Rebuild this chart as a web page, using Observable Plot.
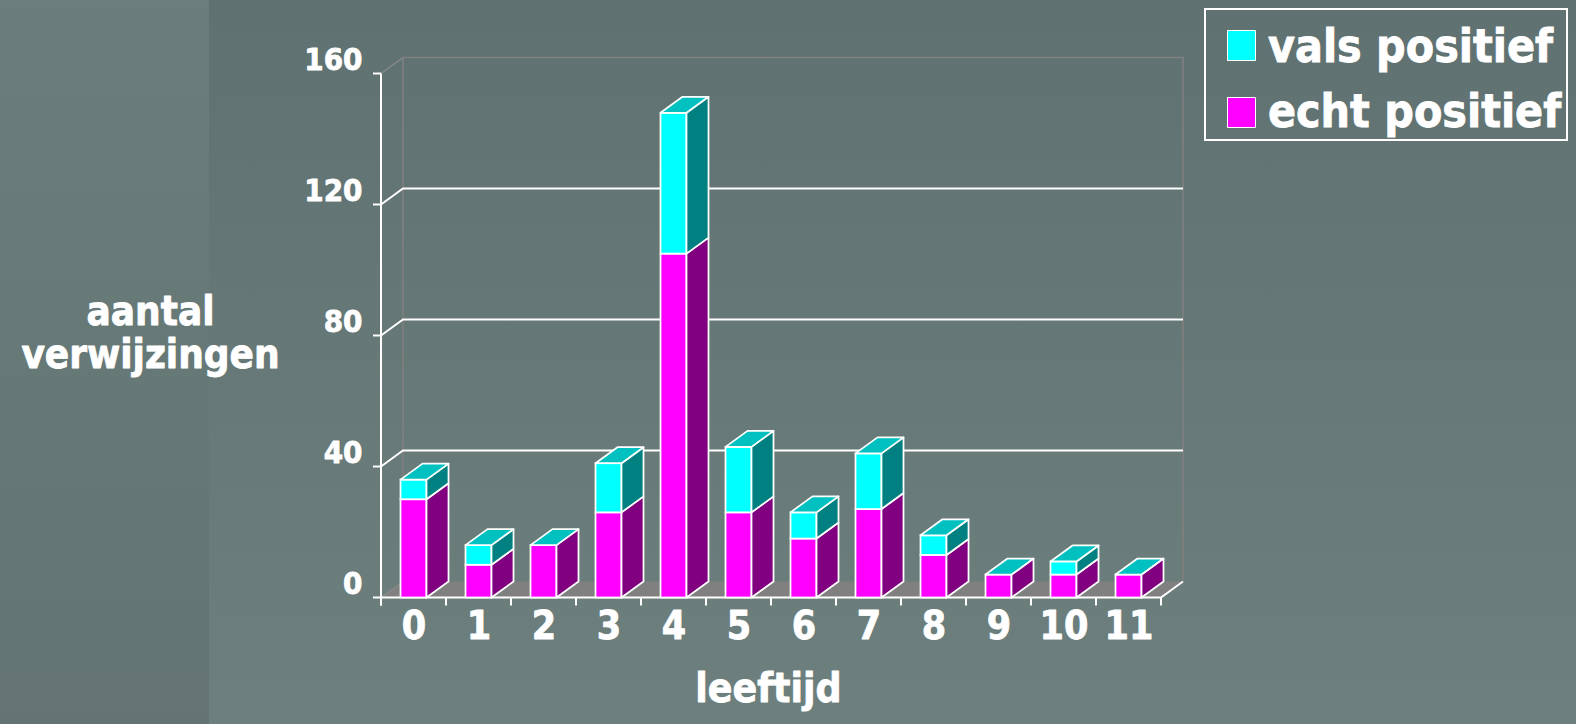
<!DOCTYPE html>
<html>
<head>
<meta charset="utf-8">
<script src="https://cdn.jsdelivr.net/npm/d3@7"></script>
<script src="https://cdn.jsdelivr.net/npm/@observablehq/plot@0.6"></script>
<style>
  html, body { margin: 0; padding: 0; }
  #page {
    position: relative; width: 1576px; height: 724px; overflow: hidden;
    background:
      linear-gradient(to bottom, #6b7e7c, #637472) 0 0 / 209px 100% no-repeat,
      linear-gradient(to bottom, #5f7170, #6d807e);
    font-family: "DejaVu Sans Condensed", "DejaVu Sans", sans-serif;
    font-stretch: condensed;
  }
  #chart { position: absolute; left: 0; top: 0; }
  #legend {
    position: absolute; left: 1204px; top: 8px; width: 364px; height: 133px;
    border: 2px solid #fff; box-sizing: border-box;
    color: #fff; font-weight: bold; font-size: 46px;
    -webkit-text-stroke: 0.8px #fff;
  }
  #legend .sw { position: absolute; left: 21px; width: 27px; height: 29px; border: 1px solid #fff; }
  #legend .lb { position: absolute; left: 62px; line-height: 46px; white-space: nowrap; }
</style>
</head>
<body>
<div id="page">
  <div id="chart"></div>
  <div id="legend"></div>
</div>
<script>
// ---- data ----
const ages = ["0","1","2","3","4","5","6","7","8","9","10","11"];
const echtPositief = [30, 10, 16, 26, 105, 26, 18, 27, 13, 7, 7, 7];
const valsPositief = [6, 6, 0, 15, 43, 20, 8, 17, 6, 0, 4, 0];
const seriesNames = ["echt positief", "vals positief"];
const frontColors = ["#ff00ff", "#00ffff"];
const sideColors = ["#800080", "#008080"];
const topColor = "#00c0c0";
const yTicks = [0, 40, 80, 120, 160];
const gridTicks = [40, 80, 120];
const legendOrder = ["vals positief", "echt positief"];
const yTitle = "aantal\nverwijzingen";
const xTitle = "leeftijd";

const rows = [
  ...ages.map((a, i) => ({age: a, series: seriesNames[0], value: echtPositief[i]})),
  ...ages.map((a, i) => ({age: a, series: seriesNames[1], value: valsPositief[i]}))
];

// 3D look
const DX = 22, DY = -16, INSET = 19.5, SW = 1.75;
const FONT = '"DejaVu Sans Condensed", "DejaVu Sans", sans-serif';
const TXT = {fill: "white", stroke: "white", strokeWidth: 0.8, fontWeight: "bold"};

function pts(arr) { return arr.map(p => p.join(",")).join(" "); }

function wallRender(index, scales, values, dims, ctx) {
  const x = scales.x, y = scales.y;
  const step = x(ages[1]) - x(ages[0]);
  const x0 = x(ages[0]), xN = x(ages[ages.length - 1]) + step;
  const y0 = y(0), yT = y(yTicks[yTicks.length - 1]);
  const g = d3.create("svg:g");
  // floor
  g.append("polygon").attr("points", pts([[x0, y0], [xN, y0], [xN + DX, y0 + DY], [x0 + DX, y0 + DY]]))
    .attr("fill", "#808080");
  // back wall outline
  g.append("polyline").attr("points", pts([[x0 + DX, y0 + DY], [x0 + DX, yT + DY], [xN + DX, yT + DY], [xN + DX, y0 + DY]]))
    .attr("fill", "none").attr("stroke", "#808080").attr("stroke-width", 1.5);
  // grey diagonals at 0 and top
  for (const v of [0, yTicks[yTicks.length - 1]]) {
    g.append("line").attr("x1", x0).attr("y1", y(v)).attr("x2", x0 + DX).attr("y2", y(v) + DY)
      .attr("stroke", "#8a8a8a").attr("stroke-width", 1.5);
  }
  // gridlines + white diagonals
  for (const v of gridTicks) {
    g.append("polyline").attr("points", pts([[x0, y(v)], [x0 + DX, y(v) + DY], [xN + DX, y(v) + DY]]))
      .attr("fill", "none").attr("stroke", "#fff").attr("stroke-width", 2);
  }
  // front y axis line and ticks
  g.append("line").attr("x1", x0).attr("x2", x0).attr("y1", yT).attr("y2", y0 + 8)
    .attr("stroke", "#fff").attr("stroke-width", 2);
  for (const v of yTicks) {
    g.append("line").attr("x1", x0 - 8).attr("x2", x0).attr("y1", y(v)).attr("y2", y(v))
      .attr("stroke", "#fff").attr("stroke-width", 2);
  }
  // front x axis line, right diagonal, boundary ticks
  g.append("polyline").attr("points", pts([[x0, y0], [xN, y0], [xN + DX, y0 + DY]]))
    .attr("fill", "none").attr("stroke", "#fff").attr("stroke-width", 2);
  for (let i = 0; i <= ages.length; i++) {
    const xb = x0 + i * step;
    g.append("line").attr("x1", xb).attr("x2", xb).attr("y1", y0).attr("y2", y0 + 8)
      .attr("stroke", "#fff").attr("stroke-width", 2);
  }
  return g.node();
}

function barsRender(index, scales, values, dims, ctx, next) {
  const g = next(index, scales, values, dims, ctx);
  const step = scales.x(ages[1]) - scales.x(ages[0]);
  const extra = d3.create("svg:g").attr("stroke", "#fff").attr("stroke-width", SW).attr("stroke-linejoin", "round");
  for (const i of index) {
    const s = seriesNames.indexOf(rows[i].series);
    const xl = values.x[i] + INSET, xr = values.x[i] + step - INSET;
    const ya = Math.min(values.y1[i], values.y2[i]), yb = Math.max(values.y1[i], values.y2[i]);
    if (yb - ya > 0.01) {
      extra.append("polygon").attr("points", pts([[xr, yb], [xr + DX, yb + DY], [xr + DX, ya + DY], [xr, ya]]))
        .attr("fill", sideColors[s]);
    }
    if (s === seriesNames.length - 1) {
      extra.append("polygon").attr("points", pts([[xl, ya], [xl + DX, ya + DY], [xr + DX, ya + DY], [xr, ya]]))
        .attr("fill", topColor);
    }
  }
  g.appendChild(extra.node());
  return g;
}

const plot = Plot.plot({
  width: 1576, height: 724,
  marginLeft: 380, marginRight: 414.3, marginTop: 73.5, marginBottom: 126.5,
  x: {type: "band", domain: ages, padding: 0, axis: null},
  y: {domain: [0, 160], axis: null},
  color: {domain: seriesNames, range: frontColors},
  style: {background: "transparent", color: "white", fontFamily: FONT, overflow: "visible"},
  marks: [
    Plot.ruleY([0], {y: d => d, render: wallRender}),
    Plot.barY(rows, {x: "age", y: "value", fill: "series", z: "series", stroke: "white", strokeWidth: SW,
      insetLeft: INSET, insetRight: INSET, render: barsRender}),
    Plot.text(yTicks, {y: d => d, text: d => String(d), frameAnchor: "left", textAnchor: "end",
      dx: -18, dy: -14, fontSize: 31, ...TXT}),
    Plot.text(ages, {x: d => d, text: d => d, frameAnchor: "bottom", dy: 41, fontSize: 39, ...TXT}),
    Plot.text([xTitle], {text: d => d, frameAnchor: "bottom", dx: -3, dy: 104, fontSize: 40.5, ...TXT}),
    Plot.text([yTitle], {text: d => d, frameAnchor: "left", textAnchor: "middle", dx: -230, dy: -3,
      lineHeight: 1.08, fontSize: 40, ...TXT})
  ]
});
document.getElementById("chart").appendChild(plot);

// legend built from the series names and colour scale
const legend = document.getElementById("legend");
const rowTops = [13, 78], swTops = [20, 86.7];
legendOrder.forEach((name, k) => {
  const sw = document.createElement("div");
  sw.className = "sw";
  sw.style.top = swTops[k] + "px";
  sw.style.background = plot.scale("color").apply(name);
  legend.appendChild(sw);
  const lb = document.createElement("div");
  lb.className = "lb";
  lb.style.top = rowTops[k] + "px";
  lb.textContent = name;
  legend.appendChild(lb);
});
</script>
</body>
</html>
